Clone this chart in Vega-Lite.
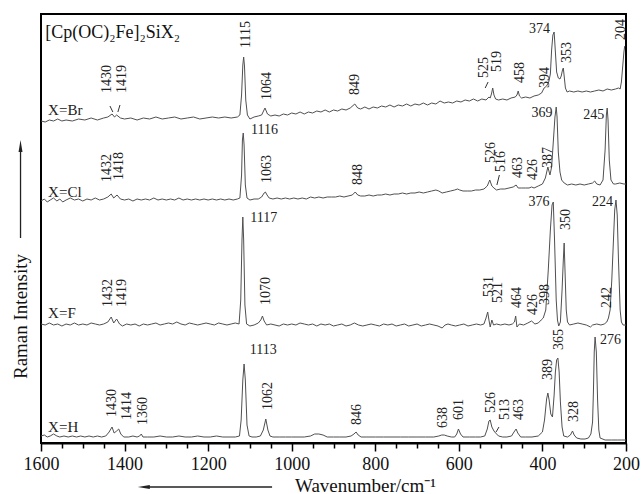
{
"$schema": "https://vega.github.io/schema/vega-lite/v6.json",
"width": 585, "height": 429,
"autosize": "none",
"padding": {"left": 41, "top": 14, "right": 17, "bottom": 51},
"background": "white",
"config": {"view": {"stroke": "#000", "strokeWidth": 2}, "font": "Liberation Serif", "axis": {"labelFont": "Liberation Serif", "titleFont": "Liberation Serif"}},
"resolve": {"axis": {"x": "independent"}},
"datasets": {
"spectra": [
{"s":"Br","x":1600,"v":321},{"s":"Br","x":1590,"v":320},{"s":"Br","x":1580,"v":322},{"s":"Br","x":1570,"v":321},{"s":"Br","x":1560,"v":323},{"s":"Br","x":1550,"v":321},{"s":"Br","x":1540,"v":322},{"s":"Br","x":1525,"v":321},{"s":"Br","x":1510,"v":323},{"s":"Br","x":1495,"v":322},{"s":"Br","x":1480,"v":324},{"s":"Br","x":1465,"v":322},{"s":"Br","x":1450,"v":324},{"s":"Br","x":1440,"v":325},{"s":"Br","x":1430,"v":328},{"s":"Br","x":1424,"v":325},{"s":"Br","x":1419,"v":327},{"s":"Br","x":1410,"v":324},{"s":"Br","x":1400,"v":323},{"s":"Br","x":1385,"v":324},{"s":"Br","x":1370,"v":322},{"s":"Br","x":1355,"v":324},{"s":"Br","x":1340,"v":323},{"s":"Br","x":1325,"v":325},{"s":"Br","x":1310,"v":323},{"s":"Br","x":1295,"v":324},{"s":"Br","x":1280,"v":325},{"s":"Br","x":1265,"v":323},{"s":"Br","x":1250,"v":324},{"s":"Br","x":1235,"v":325},{"s":"Br","x":1220,"v":323},{"s":"Br","x":1205,"v":324},{"s":"Br","x":1190,"v":325},{"s":"Br","x":1175,"v":324},{"s":"Br","x":1160,"v":325},{"s":"Br","x":1145,"v":324},{"s":"Br","x":1130,"v":325},{"s":"Br","x":1124,"v":327},{"s":"Br","x":1120,"v":347},{"s":"Br","x":1117,"v":377},{"s":"Br","x":1115,"v":385},{"s":"Br","x":1113,"v":376},{"s":"Br","x":1110,"v":342},{"s":"Br","x":1106,"v":327},{"s":"Br","x":1100,"v":323},{"s":"Br","x":1090,"v":325},{"s":"Br","x":1080,"v":326},{"s":"Br","x":1072,"v":327},{"s":"Br","x":1064,"v":334},{"s":"Br","x":1058,"v":328},{"s":"Br","x":1050,"v":326},{"s":"Br","x":1040,"v":327},{"s":"Br","x":1030,"v":326},{"s":"Br","x":1020,"v":328},{"s":"Br","x":1010,"v":327},{"s":"Br","x":1000,"v":329},{"s":"Br","x":990,"v":328},{"s":"Br","x":980,"v":330},{"s":"Br","x":970,"v":328},{"s":"Br","x":960,"v":330},{"s":"Br","x":950,"v":329},{"s":"Br","x":940,"v":331},{"s":"Br","x":930,"v":330},{"s":"Br","x":920,"v":332},{"s":"Br","x":910,"v":330},{"s":"Br","x":900,"v":332},{"s":"Br","x":890,"v":331},{"s":"Br","x":880,"v":333},{"s":"Br","x":870,"v":332},{"s":"Br","x":860,"v":334},{"s":"Br","x":849,"v":338},{"s":"Br","x":842,"v":334},{"s":"Br","x":835,"v":333},{"s":"Br","x":825,"v":335},{"s":"Br","x":815,"v":333},{"s":"Br","x":805,"v":335},{"s":"Br","x":795,"v":334},{"s":"Br","x":785,"v":336},{"s":"Br","x":775,"v":335},{"s":"Br","x":765,"v":337},{"s":"Br","x":755,"v":335},{"s":"Br","x":745,"v":337},{"s":"Br","x":735,"v":336},{"s":"Br","x":725,"v":338},{"s":"Br","x":715,"v":336},{"s":"Br","x":705,"v":338},{"s":"Br","x":695,"v":337},{"s":"Br","x":685,"v":339},{"s":"Br","x":675,"v":337},{"s":"Br","x":665,"v":339},{"s":"Br","x":655,"v":338},{"s":"Br","x":645,"v":341},{"s":"Br","x":635,"v":339},{"s":"Br","x":625,"v":340},{"s":"Br","x":615,"v":339},{"s":"Br","x":605,"v":341},{"s":"Br","x":595,"v":340},{"s":"Br","x":585,"v":342},{"s":"Br","x":575,"v":341},{"s":"Br","x":565,"v":343},{"s":"Br","x":555,"v":341},{"s":"Br","x":545,"v":343},{"s":"Br","x":535,"v":342},{"s":"Br","x":528,"v":345},{"s":"Br","x":525,"v":344},{"s":"Br","x":522,"v":348},{"s":"Br","x":519,"v":354},{"s":"Br","x":516,"v":347},{"s":"Br","x":512,"v":343},{"s":"Br","x":505,"v":342},{"s":"Br","x":495,"v":343},{"s":"Br","x":485,"v":342},{"s":"Br","x":475,"v":344},{"s":"Br","x":465,"v":345},{"s":"Br","x":461,"v":347},{"s":"Br","x":458,"v":351},{"s":"Br","x":455,"v":346},{"s":"Br","x":450,"v":344},{"s":"Br","x":440,"v":345},{"s":"Br","x":430,"v":344},{"s":"Br","x":420,"v":346},{"s":"Br","x":410,"v":347},{"s":"Br","x":402,"v":349},{"s":"Br","x":396,"v":354},{"s":"Br","x":390,"v":356},{"s":"Br","x":385,"v":360},{"s":"Br","x":381,"v":368},{"s":"Br","x":378,"v":392},{"s":"Br","x":375,"v":407},{"s":"Br","x":372,"v":410},{"s":"Br","x":369,"v":390},{"s":"Br","x":366,"v":370},{"s":"Br","x":362,"v":364},{"s":"Br","x":358,"v":363},{"s":"Br","x":355,"v":366},{"s":"Br","x":352,"v":372},{"s":"Br","x":350,"v":374},{"s":"Br","x":348,"v":366},{"s":"Br","x":345,"v":354},{"s":"Br","x":341,"v":350},{"s":"Br","x":335,"v":351},{"s":"Br","x":325,"v":350},{"s":"Br","x":315,"v":351},{"s":"Br","x":305,"v":350},{"s":"Br","x":295,"v":351},{"s":"Br","x":285,"v":350},{"s":"Br","x":275,"v":351},{"s":"Br","x":265,"v":352},{"s":"Br","x":255,"v":351},{"s":"Br","x":245,"v":353},{"s":"Br","x":235,"v":352},{"s":"Br","x":225,"v":353},{"s":"Br","x":218,"v":354},{"s":"Br","x":214,"v":353},{"s":"Br","x":211,"v":360},{"s":"Br","x":208,"v":375},{"s":"Br","x":205,"v":390},{"s":"Br","x":203,"v":396},
{"s":"Cl","x":1600,"v":241},{"s":"Cl","x":1592,"v":243},{"s":"Cl","x":1585,"v":240},{"s":"Cl","x":1578,"v":242},{"s":"Cl","x":1570,"v":244},{"s":"Cl","x":1562,"v":241},{"s":"Cl","x":1555,"v":243},{"s":"Cl","x":1548,"v":240},{"s":"Cl","x":1540,"v":242},{"s":"Cl","x":1530,"v":244},{"s":"Cl","x":1520,"v":242},{"s":"Cl","x":1510,"v":243},{"s":"Cl","x":1500,"v":241},{"s":"Cl","x":1490,"v":243},{"s":"Cl","x":1480,"v":242},{"s":"Cl","x":1470,"v":244},{"s":"Cl","x":1460,"v":242},{"s":"Cl","x":1450,"v":243},{"s":"Cl","x":1440,"v":245},{"s":"Cl","x":1432,"v":248},{"s":"Cl","x":1426,"v":244},{"s":"Cl","x":1418,"v":247},{"s":"Cl","x":1410,"v":243},{"s":"Cl","x":1400,"v":242},{"s":"Cl","x":1390,"v":243},{"s":"Cl","x":1380,"v":241},{"s":"Cl","x":1370,"v":243},{"s":"Cl","x":1360,"v":242},{"s":"Cl","x":1350,"v":243},{"s":"Cl","x":1340,"v":242},{"s":"Cl","x":1330,"v":244},{"s":"Cl","x":1320,"v":242},{"s":"Cl","x":1310,"v":243},{"s":"Cl","x":1300,"v":242},{"s":"Cl","x":1290,"v":243},{"s":"Cl","x":1280,"v":242},{"s":"Cl","x":1270,"v":244},{"s":"Cl","x":1260,"v":242},{"s":"Cl","x":1250,"v":243},{"s":"Cl","x":1240,"v":242},{"s":"Cl","x":1230,"v":243},{"s":"Cl","x":1220,"v":242},{"s":"Cl","x":1210,"v":243},{"s":"Cl","x":1200,"v":242},{"s":"Cl","x":1190,"v":243},{"s":"Cl","x":1180,"v":242},{"s":"Cl","x":1170,"v":243},{"s":"Cl","x":1160,"v":242},{"s":"Cl","x":1150,"v":243},{"s":"Cl","x":1140,"v":242},{"s":"Cl","x":1130,"v":243},{"s":"Cl","x":1124,"v":244},{"s":"Cl","x":1120,"v":267},{"s":"Cl","x":1118,"v":302},{"s":"Cl","x":1116,"v":309},{"s":"Cl","x":1114,"v":297},{"s":"Cl","x":1111,"v":257},{"s":"Cl","x":1107,"v":244},{"s":"Cl","x":1100,"v":242},{"s":"Cl","x":1090,"v":243},{"s":"Cl","x":1080,"v":243},{"s":"Cl","x":1072,"v":245},{"s":"Cl","x":1066,"v":249},{"s":"Cl","x":1063,"v":250},{"s":"Cl","x":1059,"v":247},{"s":"Cl","x":1054,"v":244},{"s":"Cl","x":1045,"v":243},{"s":"Cl","x":1035,"v":244},{"s":"Cl","x":1025,"v":243},{"s":"Cl","x":1015,"v":244},{"s":"Cl","x":1005,"v":243},{"s":"Cl","x":995,"v":244},{"s":"Cl","x":985,"v":243},{"s":"Cl","x":975,"v":244},{"s":"Cl","x":965,"v":243},{"s":"Cl","x":955,"v":245},{"s":"Cl","x":945,"v":244},{"s":"Cl","x":935,"v":245},{"s":"Cl","x":925,"v":244},{"s":"Cl","x":915,"v":245},{"s":"Cl","x":905,"v":245},{"s":"Cl","x":895,"v":245},{"s":"Cl","x":885,"v":246},{"s":"Cl","x":875,"v":245},{"s":"Cl","x":865,"v":246},{"s":"Cl","x":855,"v":247},{"s":"Cl","x":848,"v":250},{"s":"Cl","x":842,"v":247},{"s":"Cl","x":835,"v":246},{"s":"Cl","x":825,"v":246},{"s":"Cl","x":815,"v":247},{"s":"Cl","x":805,"v":246},{"s":"Cl","x":795,"v":247},{"s":"Cl","x":785,"v":247},{"s":"Cl","x":775,"v":248},{"s":"Cl","x":765,"v":247},{"s":"Cl","x":755,"v":248},{"s":"Cl","x":745,"v":248},{"s":"Cl","x":735,"v":249},{"s":"Cl","x":725,"v":248},{"s":"Cl","x":715,"v":249},{"s":"Cl","x":705,"v":249},{"s":"Cl","x":695,"v":250},{"s":"Cl","x":685,"v":249},{"s":"Cl","x":675,"v":250},{"s":"Cl","x":665,"v":251},{"s":"Cl","x":655,"v":252},{"s":"Cl","x":648,"v":251},{"s":"Cl","x":640,"v":249},{"s":"Cl","x":630,"v":250},{"s":"Cl","x":620,"v":251},{"s":"Cl","x":610,"v":252},{"s":"Cl","x":603,"v":253},{"s":"Cl","x":598,"v":252},{"s":"Cl","x":590,"v":251},{"s":"Cl","x":580,"v":251},{"s":"Cl","x":570,"v":251},{"s":"Cl","x":560,"v":252},{"s":"Cl","x":550,"v":252},{"s":"Cl","x":540,"v":253},{"s":"Cl","x":532,"v":256},{"s":"Cl","x":526,"v":262},{"s":"Cl","x":521,"v":256},{"s":"Cl","x":516,"v":254},{"s":"Cl","x":510,"v":252},{"s":"Cl","x":500,"v":253},{"s":"Cl","x":490,"v":253},{"s":"Cl","x":480,"v":254},{"s":"Cl","x":470,"v":255},{"s":"Cl","x":463,"v":257},{"s":"Cl","x":458,"v":254},{"s":"Cl","x":450,"v":254},{"s":"Cl","x":440,"v":254},{"s":"Cl","x":432,"v":254},{"s":"Cl","x":426,"v":255},{"s":"Cl","x":420,"v":254},{"s":"Cl","x":410,"v":256},{"s":"Cl","x":400,"v":258},{"s":"Cl","x":393,"v":264},{"s":"Cl","x":387,"v":275},{"s":"Cl","x":382,"v":267},{"s":"Cl","x":378,"v":275},{"s":"Cl","x":374,"v":300},{"s":"Cl","x":370,"v":325},{"s":"Cl","x":367,"v":335},{"s":"Cl","x":365,"v":325},{"s":"Cl","x":362,"v":290},{"s":"Cl","x":358,"v":270},{"s":"Cl","x":354,"v":262},{"s":"Cl","x":348,"v":259},{"s":"Cl","x":340,"v":257},{"s":"Cl","x":330,"v":258},{"s":"Cl","x":320,"v":257},{"s":"Cl","x":310,"v":258},{"s":"Cl","x":300,"v":257},{"s":"Cl","x":290,"v":258},{"s":"Cl","x":280,"v":259},{"s":"Cl","x":275,"v":261},{"s":"Cl","x":270,"v":258},{"s":"Cl","x":262,"v":257},{"s":"Cl","x":255,"v":262},{"s":"Cl","x":250,"v":292},{"s":"Cl","x":247,"v":327},{"s":"Cl","x":245,"v":334},{"s":"Cl","x":243,"v":322},{"s":"Cl","x":240,"v":282},{"s":"Cl","x":236,"v":262},{"s":"Cl","x":230,"v":258},{"s":"Cl","x":225,"v":258},{"s":"Cl","x":215,"v":259},{"s":"Cl","x":205,"v":258},{"s":"Cl","x":200,"v":258},
{"s":"F","x":1600,"v":118},{"s":"F","x":1590,"v":117},{"s":"F","x":1580,"v":119},{"s":"F","x":1570,"v":117},{"s":"F","x":1560,"v":118},{"s":"F","x":1550,"v":116},{"s":"F","x":1540,"v":118},{"s":"F","x":1530,"v":117},{"s":"F","x":1520,"v":119},{"s":"F","x":1510,"v":117},{"s":"F","x":1500,"v":118},{"s":"F","x":1490,"v":117},{"s":"F","x":1480,"v":119},{"s":"F","x":1470,"v":118},{"s":"F","x":1460,"v":117},{"s":"F","x":1450,"v":118},{"s":"F","x":1440,"v":120},{"s":"F","x":1432,"v":125},{"s":"F","x":1426,"v":119},{"s":"F","x":1419,"v":123},{"s":"F","x":1412,"v":118},{"s":"F","x":1405,"v":116},{"s":"F","x":1395,"v":118},{"s":"F","x":1385,"v":117},{"s":"F","x":1375,"v":118},{"s":"F","x":1365,"v":116},{"s":"F","x":1355,"v":118},{"s":"F","x":1345,"v":117},{"s":"F","x":1335,"v":118},{"s":"F","x":1325,"v":119},{"s":"F","x":1315,"v":117},{"s":"F","x":1305,"v":118},{"s":"F","x":1295,"v":119},{"s":"F","x":1285,"v":118},{"s":"F","x":1275,"v":120},{"s":"F","x":1265,"v":118},{"s":"F","x":1255,"v":117},{"s":"F","x":1245,"v":119},{"s":"F","x":1235,"v":118},{"s":"F","x":1225,"v":117},{"s":"F","x":1215,"v":118},{"s":"F","x":1205,"v":119},{"s":"F","x":1195,"v":118},{"s":"F","x":1185,"v":117},{"s":"F","x":1175,"v":119},{"s":"F","x":1165,"v":118},{"s":"F","x":1155,"v":117},{"s":"F","x":1145,"v":118},{"s":"F","x":1135,"v":119},{"s":"F","x":1126,"v":118},{"s":"F","x":1122,"v":142},{"s":"F","x":1119,"v":202},{"s":"F","x":1117,"v":225},{"s":"F","x":1115,"v":202},{"s":"F","x":1112,"v":137},{"s":"F","x":1108,"v":118},{"s":"F","x":1100,"v":116},{"s":"F","x":1090,"v":117},{"s":"F","x":1080,"v":119},{"s":"F","x":1074,"v":122},{"s":"F","x":1070,"v":126},{"s":"F","x":1066,"v":121},{"s":"F","x":1060,"v":117},{"s":"F","x":1050,"v":118},{"s":"F","x":1040,"v":117},{"s":"F","x":1030,"v":116},{"s":"F","x":1020,"v":118},{"s":"F","x":1010,"v":117},{"s":"F","x":1000,"v":118},{"s":"F","x":990,"v":117},{"s":"F","x":980,"v":119},{"s":"F","x":970,"v":118},{"s":"F","x":960,"v":117},{"s":"F","x":950,"v":118},{"s":"F","x":940,"v":116},{"s":"F","x":930,"v":118},{"s":"F","x":920,"v":117},{"s":"F","x":910,"v":118},{"s":"F","x":900,"v":116},{"s":"F","x":890,"v":117},{"s":"F","x":880,"v":118},{"s":"F","x":870,"v":116},{"s":"F","x":860,"v":117},{"s":"F","x":850,"v":119},{"s":"F","x":840,"v":117},{"s":"F","x":830,"v":116},{"s":"F","x":820,"v":117},{"s":"F","x":810,"v":118},{"s":"F","x":800,"v":117},{"s":"F","x":790,"v":116},{"s":"F","x":780,"v":118},{"s":"F","x":770,"v":117},{"s":"F","x":760,"v":118},{"s":"F","x":750,"v":116},{"s":"F","x":740,"v":117},{"s":"F","x":730,"v":118},{"s":"F","x":720,"v":116},{"s":"F","x":710,"v":117},{"s":"F","x":700,"v":118},{"s":"F","x":690,"v":116},{"s":"F","x":680,"v":117},{"s":"F","x":670,"v":118},{"s":"F","x":660,"v":117},{"s":"F","x":650,"v":116},{"s":"F","x":640,"v":114},{"s":"F","x":633,"v":117},{"s":"F","x":626,"v":118},{"s":"F","x":618,"v":117},{"s":"F","x":608,"v":116},{"s":"F","x":598,"v":117},{"s":"F","x":588,"v":118},{"s":"F","x":578,"v":116},{"s":"F","x":568,"v":117},{"s":"F","x":558,"v":118},{"s":"F","x":548,"v":117},{"s":"F","x":540,"v":118},{"s":"F","x":535,"v":124},{"s":"F","x":531,"v":130},{"s":"F","x":528,"v":122},{"s":"F","x":525,"v":115},{"s":"F","x":521,"v":122},{"s":"F","x":517,"v":117},{"s":"F","x":510,"v":118},{"s":"F","x":500,"v":117},{"s":"F","x":490,"v":118},{"s":"F","x":480,"v":117},{"s":"F","x":472,"v":118},{"s":"F","x":467,"v":120},{"s":"F","x":464,"v":126},{"s":"F","x":461,"v":115},{"s":"F","x":455,"v":118},{"s":"F","x":445,"v":117},{"s":"F","x":435,"v":119},{"s":"F","x":426,"v":121},{"s":"F","x":418,"v":118},{"s":"F","x":410,"v":119},{"s":"F","x":403,"v":122},{"s":"F","x":398,"v":124},{"s":"F","x":392,"v":132},{"s":"F","x":386,"v":172},{"s":"F","x":381,"v":212},{"s":"F","x":377,"v":237},{"s":"F","x":374,"v":240},{"s":"F","x":371,"v":202},{"s":"F","x":367,"v":142},{"s":"F","x":364,"v":122},{"s":"F","x":361,"v":116},{"s":"F","x":357,"v":120},{"s":"F","x":353,"v":152},{"s":"F","x":350,"v":182},{"s":"F","x":348,"v":199},{"s":"F","x":346,"v":172},{"s":"F","x":343,"v":132},{"s":"F","x":340,"v":120},{"s":"F","x":335,"v":117},{"s":"F","x":325,"v":118},{"s":"F","x":315,"v":119},{"s":"F","x":305,"v":118},{"s":"F","x":295,"v":117},{"s":"F","x":285,"v":115},{"s":"F","x":280,"v":117},{"s":"F","x":270,"v":118},{"s":"F","x":260,"v":117},{"s":"F","x":252,"v":118},{"s":"F","x":246,"v":120},{"s":"F","x":242,"v":124},{"s":"F","x":238,"v":132},{"s":"F","x":234,"v":162},{"s":"F","x":230,"v":202},{"s":"F","x":227,"v":232},{"s":"F","x":224,"v":242},{"s":"F","x":221,"v":227},{"s":"F","x":218,"v":182},{"s":"F","x":214,"v":132},{"s":"F","x":211,"v":120},{"s":"F","x":207,"v":117},{"s":"F","x":200,"v":117},
{"s":"H","x":1600,"v":6},{"s":"H","x":1592,"v":7},{"s":"H","x":1585,"v":5},{"s":"H","x":1578,"v":6},{"s":"H","x":1570,"v":8},{"s":"H","x":1562,"v":6},{"s":"H","x":1555,"v":5},{"s":"H","x":1545,"v":6},{"s":"H","x":1535,"v":5},{"s":"H","x":1525,"v":6},{"s":"H","x":1515,"v":5},{"s":"H","x":1505,"v":6},{"s":"H","x":1495,"v":5},{"s":"H","x":1485,"v":6},{"s":"H","x":1475,"v":5},{"s":"H","x":1465,"v":6},{"s":"H","x":1455,"v":5},{"s":"H","x":1445,"v":6},{"s":"H","x":1437,"v":10},{"s":"H","x":1430,"v":15},{"s":"H","x":1425,"v":9},{"s":"H","x":1419,"v":11},{"s":"H","x":1414,"v":13},{"s":"H","x":1409,"v":8},{"s":"H","x":1402,"v":5},{"s":"H","x":1390,"v":5},{"s":"H","x":1380,"v":6},{"s":"H","x":1370,"v":5},{"s":"H","x":1364,"v":6},{"s":"H","x":1360,"v":8},{"s":"H","x":1356,"v":5},{"s":"H","x":1345,"v":5},{"s":"H","x":1330,"v":5},{"s":"H","x":1315,"v":6},{"s":"H","x":1300,"v":5},{"s":"H","x":1285,"v":5},{"s":"H","x":1270,"v":6},{"s":"H","x":1255,"v":5},{"s":"H","x":1240,"v":5},{"s":"H","x":1225,"v":6},{"s":"H","x":1210,"v":5},{"s":"H","x":1195,"v":5},{"s":"H","x":1180,"v":6},{"s":"H","x":1165,"v":5},{"s":"H","x":1150,"v":5},{"s":"H","x":1135,"v":5},{"s":"H","x":1125,"v":6},{"s":"H","x":1121,"v":22},{"s":"H","x":1117,"v":62},{"s":"H","x":1114,"v":78},{"s":"H","x":1111,"v":62},{"s":"H","x":1107,"v":17},{"s":"H","x":1102,"v":6},{"s":"H","x":1095,"v":5},{"s":"H","x":1085,"v":5},{"s":"H","x":1075,"v":6},{"s":"H","x":1068,"v":12},{"s":"H","x":1062,"v":23},{"s":"H","x":1057,"v":12},{"s":"H","x":1052,"v":6},{"s":"H","x":1045,"v":5},{"s":"H","x":1030,"v":5},{"s":"H","x":1015,"v":5},{"s":"H","x":1000,"v":5},{"s":"H","x":985,"v":5},{"s":"H","x":970,"v":5},{"s":"H","x":955,"v":6},{"s":"H","x":945,"v":8},{"s":"H","x":935,"v":8},{"s":"H","x":925,"v":7},{"s":"H","x":915,"v":5},{"s":"H","x":900,"v":5},{"s":"H","x":885,"v":5},{"s":"H","x":870,"v":5},{"s":"H","x":858,"v":6},{"s":"H","x":851,"v":8},{"s":"H","x":846,"v":10},{"s":"H","x":841,"v":7},{"s":"H","x":834,"v":5},{"s":"H","x":820,"v":5},{"s":"H","x":800,"v":5},{"s":"H","x":780,"v":5},{"s":"H","x":760,"v":5},{"s":"H","x":740,"v":5},{"s":"H","x":720,"v":5},{"s":"H","x":700,"v":5},{"s":"H","x":680,"v":5},{"s":"H","x":660,"v":5},{"s":"H","x":648,"v":6},{"s":"H","x":641,"v":7},{"s":"H","x":635,"v":7},{"s":"H","x":628,"v":6},{"s":"H","x":618,"v":5},{"s":"H","x":610,"v":5},{"s":"H","x":605,"v":8},{"s":"H","x":601,"v":13},{"s":"H","x":596,"v":8},{"s":"H","x":590,"v":5},{"s":"H","x":575,"v":5},{"s":"H","x":560,"v":5},{"s":"H","x":548,"v":5},{"s":"H","x":538,"v":6},{"s":"H","x":532,"v":13},{"s":"H","x":528,"v":21},{"s":"H","x":525,"v":22},{"s":"H","x":521,"v":15},{"s":"H","x":516,"v":11},{"s":"H","x":512,"v":9},{"s":"H","x":505,"v":6},{"s":"H","x":495,"v":5},{"s":"H","x":485,"v":5},{"s":"H","x":474,"v":6},{"s":"H","x":468,"v":10},{"s":"H","x":463,"v":13},{"s":"H","x":459,"v":9},{"s":"H","x":452,"v":5},{"s":"H","x":440,"v":5},{"s":"H","x":425,"v":5},{"s":"H","x":410,"v":6},{"s":"H","x":400,"v":10},{"s":"H","x":395,"v":22},{"s":"H","x":390,"v":43},{"s":"H","x":387,"v":49},{"s":"H","x":384,"v":42},{"s":"H","x":380,"v":28},{"s":"H","x":376,"v":25},{"s":"H","x":372,"v":47},{"s":"H","x":369,"v":70},{"s":"H","x":366,"v":82},{"s":"H","x":363,"v":84},{"s":"H","x":360,"v":70},{"s":"H","x":357,"v":40},{"s":"H","x":353,"v":15},{"s":"H","x":349,"v":6},{"s":"H","x":340,"v":5},{"s":"H","x":333,"v":7},{"s":"H","x":328,"v":11},{"s":"H","x":324,"v":7},{"s":"H","x":318,"v":4},{"s":"H","x":308,"v":3},{"s":"H","x":298,"v":3},{"s":"H","x":290,"v":4},{"s":"H","x":284,"v":8},{"s":"H","x":280,"v":20},{"s":"H","x":278,"v":50},{"s":"H","x":276,"v":90},{"s":"H","x":274,"v":105},{"s":"H","x":271,"v":90},{"s":"H","x":268,"v":42},{"s":"H","x":265,"v":12},{"s":"H","x":262,"v":4},{"s":"H","x":250,"v":2},{"s":"H","x":235,"v":2},{"s":"H","x":220,"v":2},{"s":"H","x":210,"v":2},{"s":"H","x":200,"v":2}
],
"vlabels": [
{"t":"1430","x":1442,"v":349},{"t":"1419","x":1406,"v":349},{"t":"1115","x":1109,"v":394},{"t":"1064","x":1059,"v":342},{"t":"849","x":849,"v":347},{"t":"525","x":541,"v":364},{"t":"519","x":509,"v":370},{"t":"458","x":454,"v":359},{"t":"394","x":394,"v":354},{"t":"353","x":342,"v":379},{"t":"204","x":212,"v":402},
{"t":"1432","x":1442,"v":260},{"t":"1418","x":1413,"v":262},{"t":"1063","x":1059,"v":259},{"t":"848","x":842,"v":257},{"t":"526","x":524,"v":279},{"t":"516","x":498,"v":270},{"t":"463","x":458,"v":264},{"t":"426","x":422,"v":262},{"t":"387","x":387,"v":274},
{"t":"1432","x":1439,"v":135},{"t":"1419","x":1406,"v":135},{"t":"1070","x":1061,"v":137},{"t":"531","x":528,"v":145},{"t":"521","x":506,"v":139},{"t":"464","x":461,"v":134},{"t":"426","x":422,"v":127},{"t":"398","x":394,"v":137},{"t":"350","x":344,"v":212},{"t":"242","x":246,"v":134},
{"t":"1430","x":1430,"v":25},{"t":"1414","x":1394,"v":22},{"t":"1360","x":1356,"v":17},{"t":"1062","x":1057,"v":32},{"t":"846","x":844,"v":17},{"t":"638","x":638,"v":14},{"t":"601","x":600,"v":22},{"t":"526","x":524,"v":29},{"t":"513","x":490,"v":22},{"t":"463","x":456,"v":22},{"t":"389","x":387,"v":62},{"t":"365","x":360,"v":92},{"t":"328","x":324,"v":20}
],
"hlabels": [
{"t":"374","x":407,"v":413},{"t":"1116","x":1065,"v":312},{"t":"369","x":401,"v":329},{"t":"245","x":277,"v":327},{"t":"1117","x":1067,"v":224},{"t":"376","x":408,"v":240},{"t":"224","x":256,"v":240},{"t":"1113","x":1068,"v":92},{"t":"276","x":237,"v":102}
],
"tags": [
{"t":"X=Br","x":1583,"v":332},{"t":"X=Cl","x":1583,"v":250},{"t":"X=F","x":1583,"v":129},{"t":"X=H","x":1583,"v":15}
],
"heading": [{"t":"[Cp(OC)₂Fe]₂SiX₂","x":1590,"v":409}],
"leaders": [
{"x":1435,"v":336,"x2":1428,"v2":330},{"x":1411,"v":337,"x2":1416,"v2":330},{"x":537,"v":354,"x2":530,"v2":360},{"x":509,"v":257,"x2":503,"v2":267},{"x":511,"v":10,"x2":504,"v2":15}
],
"arrowlines": [
{"x":1649,"v":204,"x2":1649,"v2":292},{"x":1047,"v":-45,"x2":1352,"v2":-45}
],
"arrowheads": [
{"x":1649,"v":296,"dir":"up"},{"x":1354,"v":-45,"dir":"left"}
]
},
"encoding": {
"x": {"field":"x","type":"quantitative","scale":{"domain":[200,1600],"reverse":true,"nice":false,"zero":false},"axis":null},
"y": {"field":"v","type":"quantitative","scale":{"domain":[-1,428],"nice":false,"zero":false},
 "axis":{"labels":false,"ticks":false,"domain":false,"grid":false,"title":"Raman Intensity","titleFont":"Liberation Serif","titleFontSize":19,"titleFontWeight":"normal","titleColor":"#111","titleAngle":270,"titleX":-21,"titleY":302,"titleBaseline":"middle","titleAlign":"center"}}
},
"layer": [
{"data":{"name":"spectra"},"mark":{"type":"line","color":"#505050","strokeWidth":1},
 "encoding":{"x":{"field":"x","type":"quantitative","scale":{"domain":[200,1600],"reverse":true,"nice":false,"zero":false},
  "axis":{"orient":"bottom","values":[1600,1400,1200,1000,800,600,400,200],
  "format":"d","labelFont":"Liberation Serif",
  "tickSize":8,"tickColor":"#000","tickWidth":1.5,"domainColor":"#000","domainWidth":2,"grid":false,
  "labelFontSize":18,"labelColor":"#111","labelPadding":4,"labelFlush":false,"labelOverlap":false,
  "title":"Wavenumber/cm⁻¹","titleFont":"Liberation Serif","titleFontSize":19,"titleFontWeight":"normal","titleColor":"#111",
  "titleX":324,"titleY":42,"titleBaseline":"middle","titleAlign":"center"}},
  "detail":{"field":"s"}}},
{"data":{"name":"leaders"},"mark":{"type":"rule","color":"#333","strokeWidth":1},
 "encoding":{"x":{"field":"x","type":"quantitative","scale":{"domain":[200,1600],"reverse":true,"nice":false,"zero":false},
   "axis":{"orient":"bottom","values":[1550,1500,1450,1350,1300,1250,1150,1100,1050,950,900,850,750,700,650,550,500,450,350,300,250],"labels":false,"domain":false,"grid":false,"title":null,"tickSize":5,"tickColor":"#000","tickWidth":1.5}},
  "x2":{"field":"x2"},"y2":{"field":"v2"}}},
{"data":{"name":"arrowlines"},"mark":{"type":"rule","color":"#222","strokeWidth":1.3},"encoding":{"x2":{"field":"x2"},"y2":{"field":"v2"}}},
{"data":{"name":"arrowheads"},"mark":{"type":"point","filled":true,"color":"#222","size":144,"opacity":1},"encoding":{"shape":{"field":"dir","type":"nominal","scale":{"domain":["up","left"],"range":["M0,-1L0.33,1L-0.33,1Z","M-1,0L1,-0.33L1,0.33Z"]},"legend":null}}},
{"data":{"name":"vlabels"},"mark":{"type":"text","angle":270,"align":"left","baseline":"middle","fontSize":14,"font":"Liberation Serif","color":"#222"},"encoding":{"text":{"field":"t"}}},
{"data":{"name":"hlabels"},"mark":{"type":"text","align":"center","baseline":"middle","fontSize":14,"font":"Liberation Serif","color":"#222"},"encoding":{"text":{"field":"t"}}},
{"data":{"name":"tags"},"mark":{"type":"text","align":"left","baseline":"middle","fontSize":15,"font":"Liberation Serif","color":"#222"},"encoding":{"text":{"field":"t"}}},
{"data":{"name":"heading"},"mark":{"type":"text","align":"left","baseline":"middle","fontSize":18,"font":"Liberation Serif","color":"#111"},"encoding":{"text":{"field":"t"}}}
]
}
